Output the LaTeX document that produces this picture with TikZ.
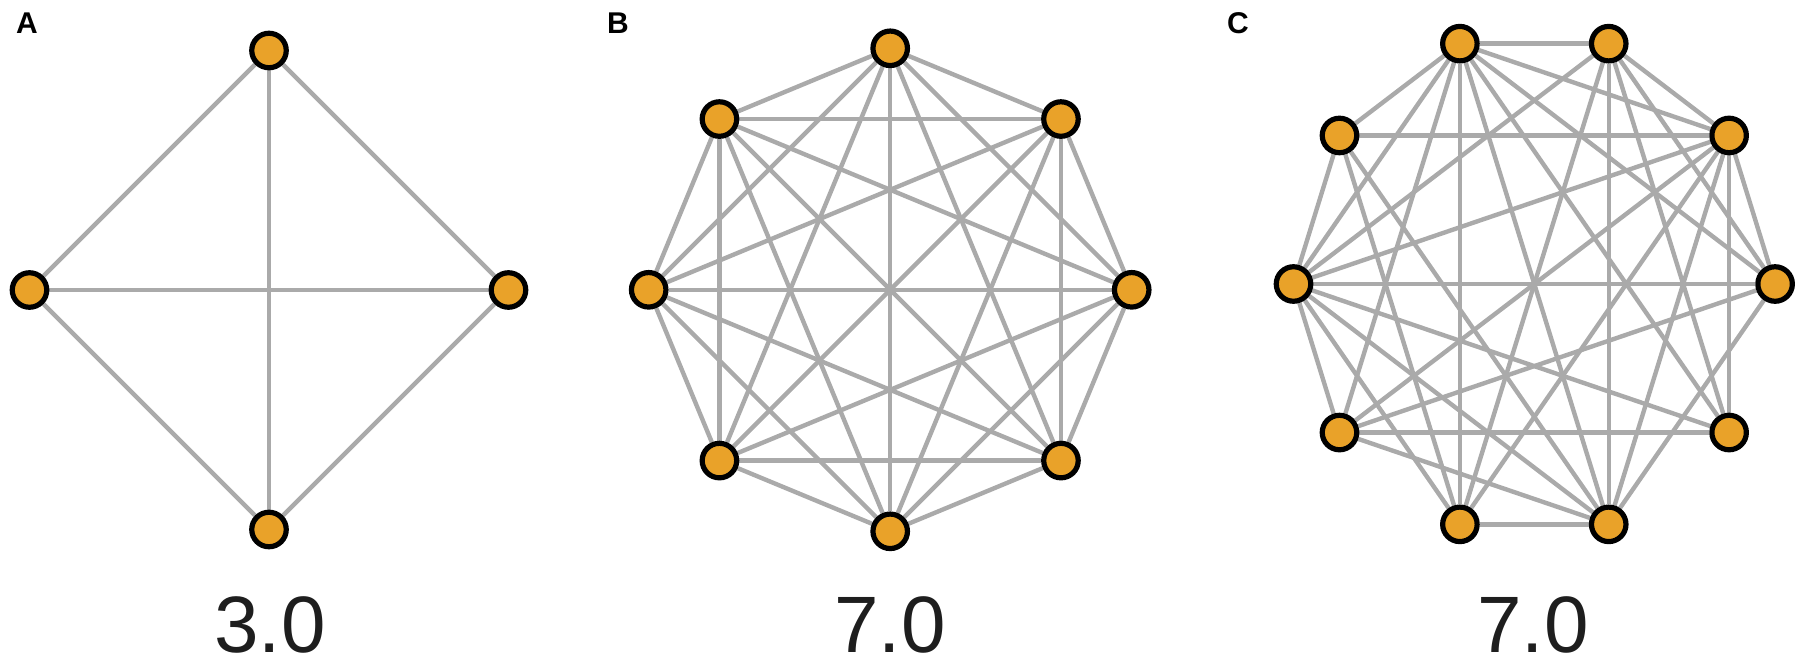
\documentclass[tikz,border=0pt]{standalone}
\usepackage{fontspec}
\setmainfont{Liberation Sans}
\pgfdeclarelayer{bg}
\pgfsetlayers{bg,main}
\definecolor{edgegray}{RGB}{170,170,170}
\definecolor{nodeorange}{RGB}{233,162,41}
\definecolor{txt}{RGB}{30,30,30}
\begin{document}
\begin{tikzpicture}[x=1pt,y=-1pt,
  vtx/.style={circle,draw=black,fill=nodeorange,line width=5.2pt,minimum size=34.5pt,inner sep=0pt},
  link/.style={draw=edgegray,line width=4.4pt},
  val/.style={anchor=base,inner sep=0pt,text depth=0pt,text=txt,font=\fontsize{80}{80}\selectfont},
  panel/.style={anchor=base west,inner sep=0pt,text depth=0pt,text=black,font=\bfseries\fontsize{30}{30}\selectfont}]
\useasboundingbox (0,0) rectangle (1807,664);
% ---------- Panel A ----------
\foreach \i in {0,...,3}
  \node[vtx] (a\i) at ({269+239.5*cos(90*\i+90)},{290-239.5*sin(90*\i+90)}) {};
\begin{pgfonlayer}{bg}
\foreach \i in {0,...,2}{
  \pgfmathtruncatemacro\k{\i+1}
  \foreach \j in {\k,...,3} \draw[link] (a\i) -- (a\j);
}
\end{pgfonlayer}
% ---------- Panel B ----------
\foreach \i in {0,...,7}
  \node[vtx] (b\i) at ({890.2+241.5*cos(45*\i+90)},{289.8-241.5*sin(45*\i+90)}) {};
\begin{pgfonlayer}{bg}
\foreach \i in {0,...,6}{
  \pgfmathtruncatemacro\k{\i+1}
  \foreach \j in {\k,...,7} \draw[link] (b\i) -- (b\j);
}
\end{pgfonlayer}
% ---------- Panel C ----------
\foreach \i in {0,...,9}
  \node[vtx] (c\i) at ({1534.3+240.8*cos(36*\i)},{284-252.7*sin(36*\i)}) {};
\begin{pgfonlayer}{bg}
\foreach \p/\q in {0/1,0/2,0/3,0/5,0/6,0/8,
                   1/2,1/3,1/4,1/5,1/6,1/7,1/8,1/9,
                   2/3,2/5,2/7,2/8,2/9,
                   3/4,3/5,3/6,3/7,3/8,3/9,
                   4/5,4/7,4/8,
                   5/6,5/7,5/8,5/9,
                   6/8,6/9,
                   7/8}
  \draw[link] (c\p) -- (c\q);
\end{pgfonlayer}
% ---------- labels ----------
\node[val] (la) at (270,652) {3.0};
\node[val] (lb) at (890,652) {7.0};
\node[val] (lc) at (1533,652) {7.0};
\node[panel] (pa) at (16,33) {A};
\node[panel] (pb) at (607,33) {B};
\node[panel] (pc) at (1227,33) {C};
\end{tikzpicture}
\end{document}
